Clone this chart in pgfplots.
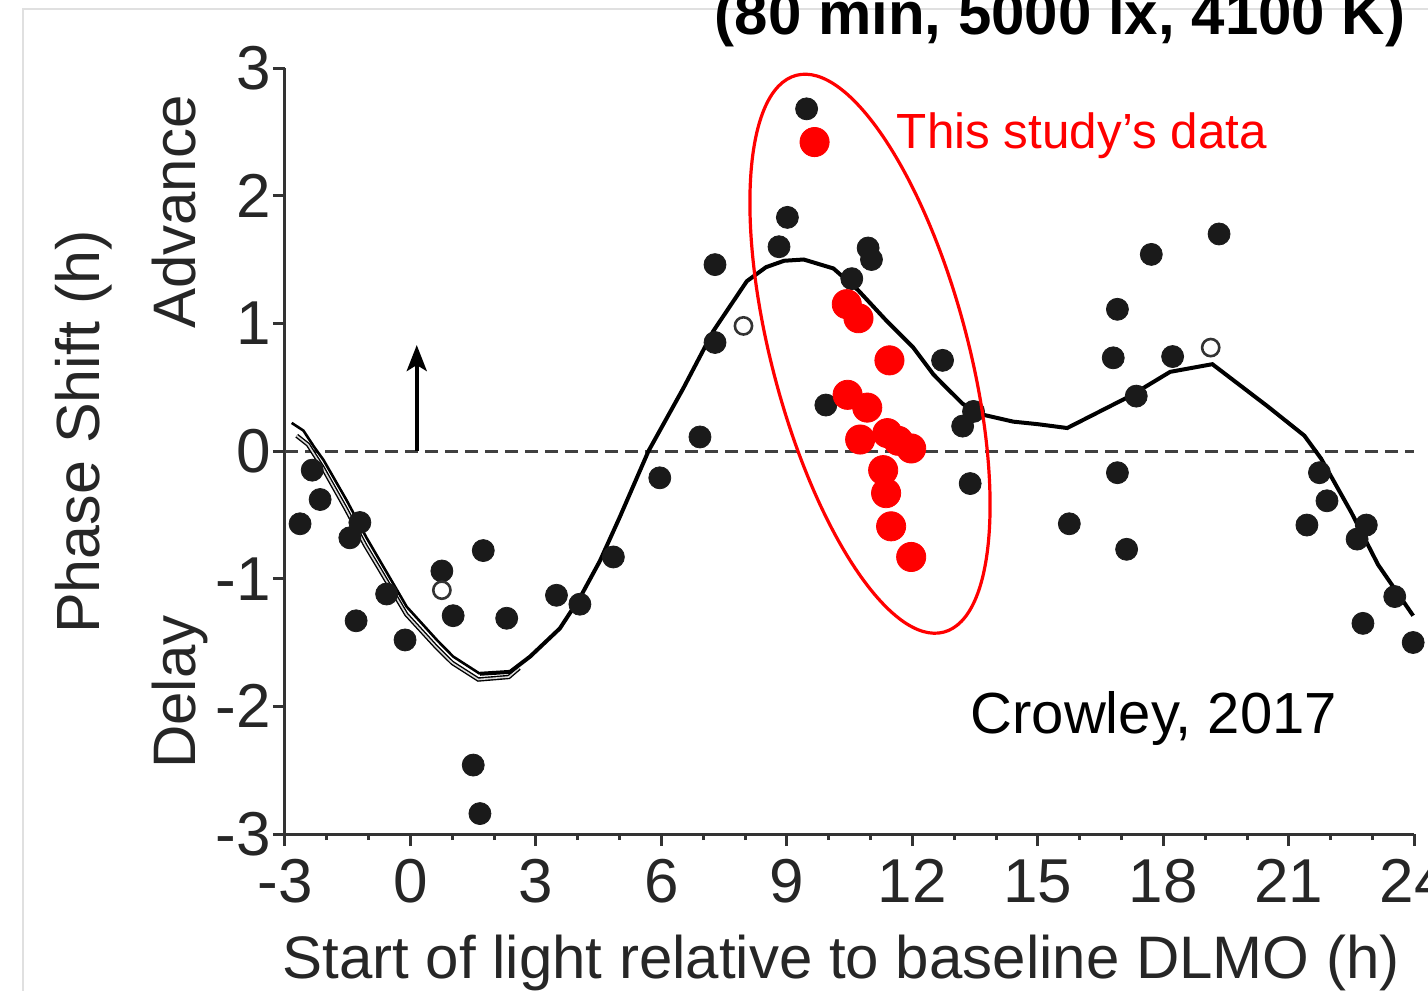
\documentclass[border=0pt]{standalone}
\usepackage{fontspec}
\setmainfont{Liberation Sans}
\usepackage{pgfplots}
\pgfplotsset{compat=1.18}
\usetikzlibrary{arrows.meta}
\definecolor{dotblk}{HTML}{1A1A1A}
\definecolor{axgray}{HTML}{333333}
\definecolor{framegray}{HTML}{E0E0E0}
\definecolor{studyred}{HTML}{FF0000}

\begin{document}
\begin{tikzpicture}
\useasboundingbox (-142.5pt,-78.5pt) rectangle (571.5pt,417pt);
\clip (-142.5pt,-78.5pt) rectangle (571.5pt,417pt);
\draw[framegray, line width=1pt] (-131pt,-78.5pt) -- (-131pt,412.5pt) -- (571.5pt,412.5pt);
\begin{axis}[
  at={(0,0)}, anchor=south west,
  width=564.7pt, height=383pt, scale only axis,
  xmin=-3, xmax=24, ymin=-3, ymax=3,
  axis lines*=left,
  axis line style={axgray, line width=1.5pt},
  xtick={-3,0,3,6,9,12,15,18,21,24},
  xticklabels={-3,0,3,6,9,12,15,18,21,24},
  minor x tick num=2,
  ytick={-3,-2,-1,0,1,2,3},
  yticklabels={-3,-2,-1,0,1,2,3},
  tick align=outside, tick pos=left,
  major tick length=6pt, minor tick length=3pt,
  every tick/.style={axgray, line width=1.5pt},
  tick label style={font=\fontsize{31}{36}\selectfont, text=black!85, inner sep=1pt},
  xticklabel style={yshift=-5.5pt},
  clip=false,
]
% zero line
\addplot[black!75, line width=1.5pt, dash pattern=on 6.5pt off 3.5pt] coordinates {(-3,0) (24,0)};

% published data (filled)
\addplot[only marks, mark=*, mark size=5.5pt, mark options={fill=dotblk, draw=dotblk}] coordinates {
  (-2.64,-0.57) (-2.35,-0.15) (-2.16,-0.38) (-1.45,-0.68) (-1.21,-0.56)
  (-1.30,-1.33) (-0.57,-1.12) (-0.13,-1.48) (0.75,-0.94) (1.02,-1.29)
  (1.74,-0.78) (2.30,-1.31) (3.49,-1.13) (4.05,-1.20) (4.85,-0.83)
  (1.50,-2.46) (1.66,-2.84) (5.96,-0.21) (6.92,0.11) (7.28,0.85)
  (7.28,1.46) (8.81,1.60) (9.01,1.83) (9.47,2.68) (9.93,0.36)
  (10.55,1.35) (10.94,1.59) (11.02,1.50) (12.72,0.71) (13.20,0.195)
  (13.46,0.31) (13.38,-0.255) (15.75,-0.57) (16.90,1.11) (16.80,0.73)
  (17.35,0.43) (16.90,-0.17) (17.12,-0.77) (17.71,1.54) (18.22,0.74)
  (19.33,1.70) (21.43,-0.58) (21.73,-0.17) (21.91,-0.39) (22.63,-0.69)
  (22.85,-0.58) (22.77,-1.35) (23.53,-1.14) (23.97,-1.50)
};
% published data (open)
\addplot[only marks, mark=o, mark size=4.3pt, mark options={draw=black!80, line width=1.3pt}] coordinates {
  (0.75,-1.09) (7.96,0.98) (19.13,0.81)
};

% lower fitted curve (left part)
\addplot[black, line width=2.2pt] coordinates {
  (-2.72,0.12) (-2.45,0.05) (-2.10,-0.13) (-1.55,-0.45) (-1.08,-0.74)
  (-0.75,-0.92) (-0.10,-1.28) (0.60,-1.53) (1.00,-1.66) (1.62,-1.79)
  (2.35,-1.77) (2.60,-1.70)
};
\addplot[gray!30, line width=0.8pt] coordinates {
  (-2.72,0.12) (-2.45,0.05) (-2.10,-0.13) (-1.55,-0.45) (-1.08,-0.74)
  (-0.75,-0.92) (-0.10,-1.28) (0.60,-1.53) (1.00,-1.66) (1.62,-1.79)
  (2.35,-1.77) (2.60,-1.70)
};

% main fitted curve
\addplot[black, line width=1.3pt] coordinates {
  (-2.84,0.22) (-2.56,0.16) (-2.30,0.03) (-2.08,-0.07) (-1.52,-0.39)
  (-1.05,-0.68) (-0.73,-0.86) (-0.09,-1.22) (0.63,-1.48) (1.02,-1.61)
  (1.66,-1.745)
};
\addplot[black, line width=2pt] coordinates {
  (1.66,-1.745) (2.38,-1.73) (2.86,-1.61) (3.57,-1.39) (4.05,-1.15)
  (4.53,-0.86) (5.00,-0.52) (5.69,0.00) (6.52,0.49) (7.24,0.94)
  (8.04,1.33) (8.50,1.44) (8.93,1.49) (9.40,1.50) (10.11,1.43)
  (10.70,1.26) (11.38,1.02) (12.02,0.81) (12.50,0.60) (12.74,0.52)
  (13.20,0.37) (13.61,0.29) (14.41,0.23) (15.00,0.21) (15.70,0.18)
  (16.00,0.23) (17.20,0.43) (18.16,0.62) (19.17,0.68) (20.49,0.35)
  (21.37,0.12) (21.77,-0.06) (22.49,-0.48) (23.13,-0.89) (23.97,-1.29)
};

% this study's data
\addplot[only marks, mark=*, mark size=7.3pt, mark options={fill=studyred, draw=studyred}] coordinates {
  (9.66,2.42) (10.43,1.15) (10.71,1.04) (11.45,0.71) (10.45,0.44)
  (10.92,0.34) (10.75,0.09) (11.40,0.14) (11.66,0.08) (11.97,0.02)
  (11.30,-0.15) (11.37,-0.33) (11.49,-0.59) (11.97,-0.83)
};

\draw[black, line width=2pt, -{Stealth[length=13pt, width=10pt, inset=3pt]}]
  (axis cs:0.15,0) -- (axis cs:0.15,0.83);

\coordinate (ec) at (axis cs:10.985,0.762);
\node[anchor=base, text=studyred, font=\fontsize{24.7}{30}\selectfont] at (axis cs:16.05,2.367) {This study’s data};
\node[anchor=base, font=\fontsize{29}{34}\selectfont] at (axis cs:17.77,-2.21) {Crowley, 2017};
\end{axis}

\begin{scope}[shift={(ec)}, rotate=14.85]
  \draw[studyred, line width=1.6pt] (0,0) ellipse [x radius=49pt, y radius=144pt];
\end{scope}

\node[anchor=base, font=\bfseries\fontsize{30}{36}\selectfont] at (387.5pt,399.5pt) {(80 min, 5000 lx, 4100 K)};
\node[anchor=base, text=black!85, font=\fontsize{30}{36}\selectfont] at (278pt,-72pt) {Start of light relative to baseline DLMO (h)};
\node[anchor=base, rotate=90, text=black!85, font=\fontsize{30.5}{36}\selectfont] at (-92.5pt,201pt) {Phase Shift (h)};
\node[anchor=base, rotate=90, text=black!85, font=\fontsize{30}{36}\selectfont] at (-44.5pt,311pt) {Advance};
\node[anchor=base, rotate=90, text=black!85, font=\fontsize{30}{36}\selectfont] at (-44.5pt,71pt) {Delay};
\end{tikzpicture}
\end{document}
